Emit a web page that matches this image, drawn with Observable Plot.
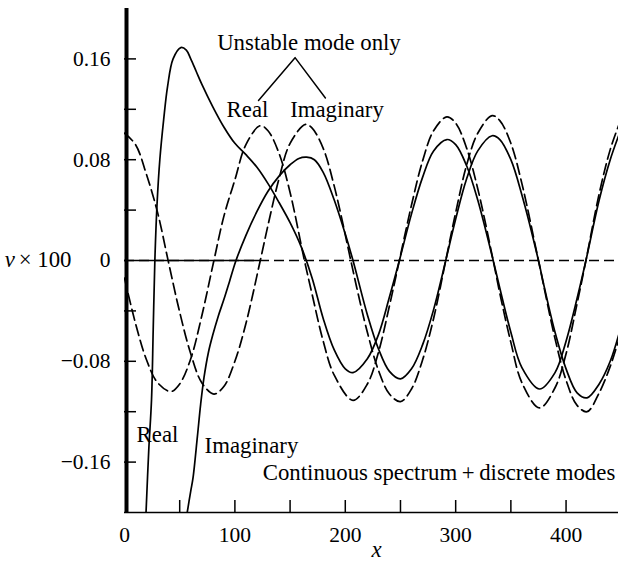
<!DOCTYPE html>
<html>
<head>
<meta charset="utf-8">
<script src="https://cdn.jsdelivr.net/npm/d3@7"></script>
<script src="https://cdn.jsdelivr.net/npm/@observablehq/plot@0.6"></script>
<style>
  html, body { margin: 0; padding: 0; background: #fff; }
  svg { display: block; }
</style>
</head>
<body>
<div id="chart"></div>
<script>
// ---- Data ----
// Continuous spectrum + discrete modes, real part (solid)
const contRealX = [19, 19.5, 22, 24.5, 26, 27.5, 29.5, 32, 35.5, 39, 44, 51, 56, 60, 65, 70, 80, 90, 100, 110, 120, 130, 140, 150, 160, 170, 180, 190, 200, 207, 220, 230, 240, 249, 260, 270, 280, 292, 300, 310, 320, 334, 340, 350, 360, 376, 390, 400, 410, 418, 430, 440, 448];
const contRealY = [-0.21, -0.2, -0.15, -0.11, -0.055, 0, 0.045, 0.08, 0.112, 0.138, 0.16, 0.169, 0.167, 0.16, 0.15, 0.14, 0.122, 0.106, 0.093, 0.084, 0.074, 0.061, 0.046, 0.03, 0.011, -0.014, -0.046, -0.071, -0.086, -0.089, -0.078, -0.059, -0.029, 0, 0.037, 0.066, 0.087, 0.096, 0.092, 0.075, 0.048, 0, -0.022, -0.057, -0.085, -0.102, -0.089, -0.064, -0.03, 0, 0.048, 0.08, 0.1];

// Continuous spectrum + discrete modes, imaginary part (solid)
const contImagX = [55, 57, 60, 62, 66, 69, 72, 76, 80, 85, 90, 95, 101, 110, 120, 130, 140, 150, 158, 165, 172, 180, 190, 200, 207, 220, 230, 240, 250, 260, 270, 280, 291, 300, 310, 320, 333, 340, 350, 360, 375, 380, 390, 400, 410, 419, 430, 440, 448];
const contImagY = [-0.21, -0.199, -0.183, -0.173, -0.14, -0.114, -0.093, -0.073, -0.059, -0.044, -0.031, -0.017, 0, 0.02, 0.039, 0.055, 0.067, 0.076, 0.081, 0.082, 0.08, 0.07, 0.048, 0.021, 0, -0.043, -0.07, -0.088, -0.094, -0.086, -0.067, -0.039, 0, 0.033, 0.065, 0.087, 0.099, 0.096, 0.08, 0.052, 0, -0.02, -0.057, -0.086, -0.105, -0.109, -0.098, -0.08, -0.058];

// Unstable mode only, real part (dashed)
const unstRealX = [0, 10, 20, 30, 42, 50, 60, 70, 81, 90, 100, 110, 123, 130, 140, 150, 163, 170, 180, 190, 207, 220, 230, 240, 249, 260, 270, 280, 292, 300, 310, 320, 334, 340, 350, 360, 376, 390, 400, 410, 418, 430, 440, 448];
const unstRealY = [-0.014, -0.05, -0.079, -0.097, -0.104, -0.098, -0.078, -0.044, 0, 0.035, 0.064, 0.092, 0.107, 0.103, 0.085, 0.054, 0, -0.027, -0.064, -0.091, -0.111, -0.098, -0.073, -0.036, 0, 0.044, 0.079, 0.103, 0.114, 0.109, 0.089, 0.057, 0, -0.026, -0.065, -0.097, -0.117, -0.101, -0.074, -0.034, 0, 0.053, 0.088, 0.108];

// Unstable mode only, imaginary part (dashed)
const unstImagX = [0, 10, 20, 30, 40, 50, 60, 70, 81, 90, 100, 110, 123, 130, 140, 150, 164, 170, 180, 190, 205, 210, 220, 230, 240, 250, 260, 270, 280, 291, 300, 310, 320, 333, 340, 350, 360, 375, 390, 400, 410, 419, 430, 440, 448];
const unstImagY = [0.101, 0.092, 0.068, 0.038, -0.002, -0.041, -0.074, -0.097, -0.106, -0.1, -0.08, -0.05, 0, 0.028, 0.065, 0.093, 0.108, 0.105, 0.089, 0.059, 0, -0.02, -0.057, -0.087, -0.106, -0.112, -0.102, -0.079, -0.046, 0, 0.038, 0.076, 0.101, 0.115, 0.111, 0.093, 0.061, 0, -0.062, -0.095, -0.115, -0.12, -0.105, -0.084, -0.062];

// Axis ticks
const xTickLabels = [0, 100, 200, 300, 400];
const xTickMarks = [50, 100, 150, 200, 250, 300, 350, 400];
const yTickLabels = [-0.16, -0.08, 0, 0.08, 0.16];
const yTickMarks = [-0.16, -0.12, -0.08, -0.04, 0.04, 0.08, 0.12, 0.16];
const zeroSolidSpan = [{x1: 0, x2: 123}];

// ---- Build tables ----
function rows(xs, ys, name) { return xs.map((x, i) => ({x, y: ys[i], name})); }
const solidRows = [...rows(contRealX, contRealY, "cr"), ...rows(contImagX, contImagY, "ci")];
const dashedRows = [...rows(unstRealX, unstRealY, "ur"), ...rows(unstImagX, unstImagY, "ui")];

const W = 618, H = 568, ML = 124, MR = 0, MT = 8, MB = 56;
const FW = W - ML - MR, FH = H - MT - MB;
const serif = "'Liberation Serif', 'Times New Roman', 'DejaVu Serif', serif";
const fmt = d => d === 0 ? "0" : (d < 0 ? "\u2212" : "") + Math.abs(d).toFixed(2);
const FS = 22.8;

const chart = Plot.plot({
  width: W, height: H,
  marginLeft: ML, marginRight: MR, marginTop: MT, marginBottom: MB,
  style: {fontFamily: serif, fontSize: "22px", background: "#fff", color: "#000"},
  x: {domain: [0, 447.5]},
  y: {domain: [-0.2, 0.2]},
  marks: [
    // zero line
    Plot.ruleY([0], {stroke: "#000", strokeWidth: 1.4, strokeDasharray: "10,5"}),
    Plot.ruleY(zeroSolidSpan, {y: () => 0, x1: "x1", x2: "x2", stroke: "#000", strokeWidth: 1.4}),
    // curves
    Plot.line(solidRows, {x: "x", y: "y", z: "name", stroke: "#000", strokeWidth: 1.7, curve: "catmull-rom", clip: true}),
    Plot.line(dashedRows, {x: "x", y: "y", z: "name", stroke: "#000", strokeWidth: 1.7, strokeDasharray: "11,5", curve: "catmull-rom", clip: true}),
    // axes lines
    Plot.ruleY([-0.2], {stroke: "#000", strokeWidth: 1.5}),
    Plot.ruleX([0], {stroke: "#000", strokeWidth: 4, dx: 2}),
    // inward ticks
    Plot.tickY(yTickMarks, {y: d => d, stroke: "#000", strokeWidth: 1.5, insetRight: FW - 12}),
    Plot.tickX(xTickMarks, {x: d => d, stroke: "#000", strokeWidth: 1.5, insetTop: FH - 12}),
    // tick labels
    Plot.axisY({ticks: yTickLabels, tickSize: 0, tickPadding: 14, tickFormat: fmt, fontSize: 21.5, label: null}),
    Plot.axisX({ticks: xTickLabels, tickSize: 0, tickPadding: 14, tickFormat: d => String(d), fontSize: 21.5, label: null}),
    // axis titles
    Plot.text(["v"], {x: -99.2, y: -0.0053, text: d => d, fontStyle: "italic", fontSize: FS, textAnchor: "end", lineAnchor: "bottom"}),
    Plot.text(["\u00d7 100"], {x: -95.8, y: -0.0053, text: d => d, fontSize: FS, textAnchor: "start", lineAnchor: "bottom"}),
    Plot.text(["x"], {x: 228.3, y: -0.2357, text: d => d, fontStyle: "italic", fontSize: FS, textAnchor: "middle", lineAnchor: "bottom"}),
    // annotations
    Plot.text(["Unstable mode only"], {x: 167.1, y: 0.1672, text: d => d, fontSize: FS, textAnchor: "middle", lineAnchor: "bottom"}),
    Plot.line([[121.4, 0.127], [154.5, 0.161], [182, 0.129]], {stroke: "#000", strokeWidth: 1.5}),
    Plot.text(["Real"], {x: 111.4, y: 0.1135, text: d => d, fontSize: FS, textAnchor: "middle", lineAnchor: "bottom"}),
    Plot.text(["Imaginary"], {x: 192.5, y: 0.1137, text: d => d, fontSize: FS, textAnchor: "middle", lineAnchor: "bottom"}),
    Plot.text(["Real"], {x: 29.9, y: -0.1442, text: d => d, fontSize: FS, textAnchor: "middle", lineAnchor: "bottom"}),
    Plot.text(["Imaginary"], {x: 115, y: -0.1529, text: d => d, fontSize: FS, textAnchor: "middle", lineAnchor: "bottom"}),
    Plot.text(["Continuous spectrum\u2009+\u2009discrete modes"], {x: 284.9, y: -0.1746, text: d => d, fontSize: FS, textAnchor: "middle", lineAnchor: "bottom"})
  ]
});
document.getElementById("chart").appendChild(chart);
</script>
</body>
</html>
